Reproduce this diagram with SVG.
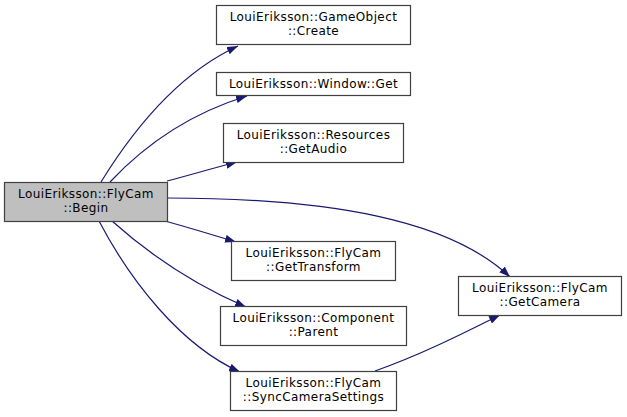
<svg xmlns="http://www.w3.org/2000/svg" width="627" height="417" viewBox="0 0 627 417">
<defs>
<marker id="arr" viewBox="0 0 11 8" markerWidth="11" markerHeight="8" refX="11" refY="4" orient="auto" markerUnits="userSpaceOnUse">
<path d="M0,0 L11,4 L0,8 z" fill="#191970"/>
</marker>
<style>
.node rect{fill:#ffffff;stroke:#404040;stroke-width:1.2}
.node.cur rect{fill:#bfbfbf}
.node text{font-family:"DejaVu Sans",sans-serif;font-size:12px;letter-spacing:0.4px;fill:#000;text-anchor:middle}
.edges path{fill:none;stroke:#191970;stroke-width:1.2;marker-end:url(#arr)}
</style>
</defs>
<rect width="627" height="417" fill="#ffffff"/>
<g class="edges">
<path d="M101,182 C130,135 175,75 238,46"/>
<path d="M110,182 C140,150 185,115 247,96"/>
<path d="M167,181 C190,175 210,169 237,162"/>
<path d="M167,198 C330,198 450,220 510,277"/>
<path d="M165,221 C190,228 210,234 236,242"/>
<path d="M112,221 C150,255 195,285 246,307"/>
<path d="M99,221 C130,280 180,345 240,372"/>
<path d="M375,371 C420,355 460,335 500,315"/>
</g>
<g id="begin" class="node cur"><rect x="4.5" y="182.5" width="163" height="39"/><text x="86" y="197.5">LouiEriksson::FlyCam</text><text x="86" y="211.5">::Begin</text></g>
<g id="create" class="node"><rect x="216.5" y="5.5" width="194" height="39"/><text x="313.5" y="20.5">LouiEriksson::GameObject</text><text x="313.5" y="34.5">::Create</text></g>
<g id="windowget" class="node"><rect x="216.5" y="72.5" width="194" height="23"/><text x="313.5" y="88">LouiEriksson::Window::Get</text></g>
<g id="getaudio" class="node"><rect x="223.5" y="123.5" width="180" height="39"/><text x="313.5" y="138.5">LouiEriksson::Resources</text><text x="313.5" y="152.5">::GetAudio</text></g>
<g id="gettransform" class="node"><rect x="231.5" y="241.5" width="164" height="39"/><text x="313.5" y="256.5">LouiEriksson::FlyCam</text><text x="313.5" y="270.5">::GetTransform</text></g>
<g id="parent" class="node"><rect x="220.5" y="306.5" width="186" height="39"/><text x="313.5" y="321.5">LouiEriksson::Component</text><text x="313.5" y="335.5">::Parent</text></g>
<g id="sync" class="node"><rect x="230.5" y="371.5" width="166" height="39"/><text x="313.5" y="386.5">LouiEriksson::FlyCam</text><text x="313.5" y="400.5">::SyncCameraSettings</text></g>
<g id="getcamera" class="node"><rect x="458.5" y="276.5" width="163" height="39"/><text x="540" y="291.5">LouiEriksson::FlyCam</text><text x="540" y="305.5">::GetCamera</text></g>
</svg>
